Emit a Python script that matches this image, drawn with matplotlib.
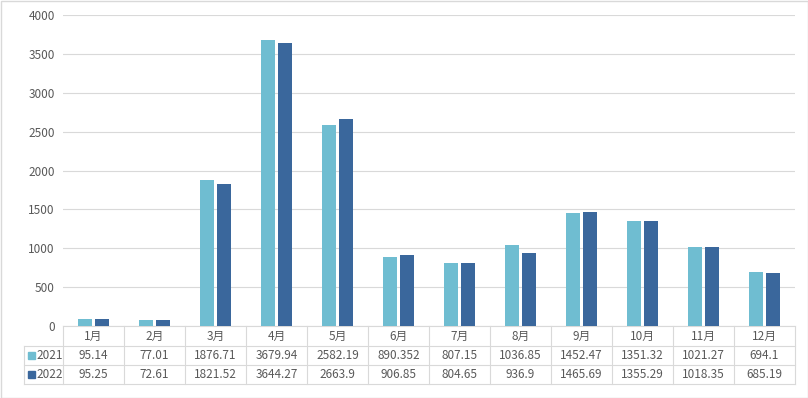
import numpy as np
import matplotlib.pyplot as plt
from matplotlib.lines import Line2D
from matplotlib.patches import Rectangle

plt.rcParams['font.family'] = ['Noto Sans CJK SC', 'DejaVu Sans']

months = ['1月', '2月', '3月', '4月', '5月', '6月', '7月', '8月', '9月', '10月', '11月', '12月']
v2021 = [95.14, 77.01, 1876.71, 3679.94, 2582.19, 890.352, 807.15, 1036.85, 1452.47, 1351.32, 1021.27, 694.1]
v2022 = [95.25, 72.61, 1821.52, 3644.27, 2663.9, 906.85, 804.65, 936.9, 1465.69, 1355.29, 1018.35, 685.19]
lab2021 = ['95.14', '77.01', '1876.71', '3679.94', '2582.19', '890.352', '807.15', '1036.85', '1452.47', '1351.32', '1021.27', '694.1']
lab2022 = ['95.25', '72.61', '1821.52', '3644.27', '2663.9', '906.85', '804.65', '936.9', '1465.69', '1355.29', '1018.35', '685.19']

c1 = '#6FBDD1'
c2 = '#3A679C'
grid_c = '#D9D9D9'
txt_c = '#595959'

W, H = 808, 398
fig = plt.figure(figsize=(W / 100, H / 100), dpi=100)

def fx(x):
    return x / W

def fy(y):
    return 1 - y / H

L, R, T, B = 63, 795, 15, 326
ax = fig.add_axes([fx(L), fy(B), fx(R) - fx(L), fy(T) - fy(B)])

x = np.arange(len(months))
ax.bar(x - 0.145, v2021, width=0.23, color=c1, zorder=3)
ax.bar(x + 0.145, v2022, width=0.23, color=c2, zorder=3)
ax.set_xlim(-0.5, len(months) - 0.5)
ax.set_ylim(0, 4000)
ax.set_yticks(np.arange(0, 4001, 500))
ax.yaxis.grid(True, color=grid_c, linewidth=0.8, zorder=0)
ax.set_xticks([])
for s in ['top', 'right', 'left']:
    ax.spines[s].set_visible(False)
ax.spines['bottom'].set_color(grid_c)
ax.tick_params(axis='y', length=0, labelsize=8.5, labelcolor=txt_c, pad=6)

# data table below the axis
cw = (R - L) / len(months)
rows = [326, 346, 365, 384]
lc = dict(color=grid_c, linewidth=0.8)
for yy in rows[1:]:
    fig.add_artist(Line2D([fx(24), fx(R)], [fy(yy), fy(yy)], **lc))
for k in range(len(months) + 1):
    xx = L + k * cw
    fig.add_artist(Line2D([fx(xx), fx(xx)], [fy(326), fy(384)], **lc))
fig.add_artist(Line2D([fx(24), fx(24)], [fy(346), fy(384)], **lc))

for i in range(len(months)):
    cx = fx(L + (i + 0.5) * cw)
    fig.text(cx, fy(336), months[i], ha='center', va='center', fontsize=8.5, color=txt_c)
    fig.text(cx, fy(355.5), lab2021[i], ha='center', va='center', fontsize=8.5, color=txt_c)
    fig.text(cx, fy(374.5), lab2022[i], ha='center', va='center', fontsize=8.5, color=txt_c)

for yy, col, name in [(355.5, c1, '2021'), (374.5, c2, '2022')]:
    fig.add_artist(Rectangle((fx(28), fy(yy + 3.5)), fx(7), 7 / H, color=col))
    fig.text(fx(36), fy(yy), name, ha='left', va='center', fontsize=8.5, color=txt_c)

# outer border
fig.add_artist(Rectangle((fx(0.5), fy(397.5)), fx(807), 397 / H, fill=False,
                         edgecolor=grid_c, linewidth=1))

fig.savefig('out.png', dpi=100)
